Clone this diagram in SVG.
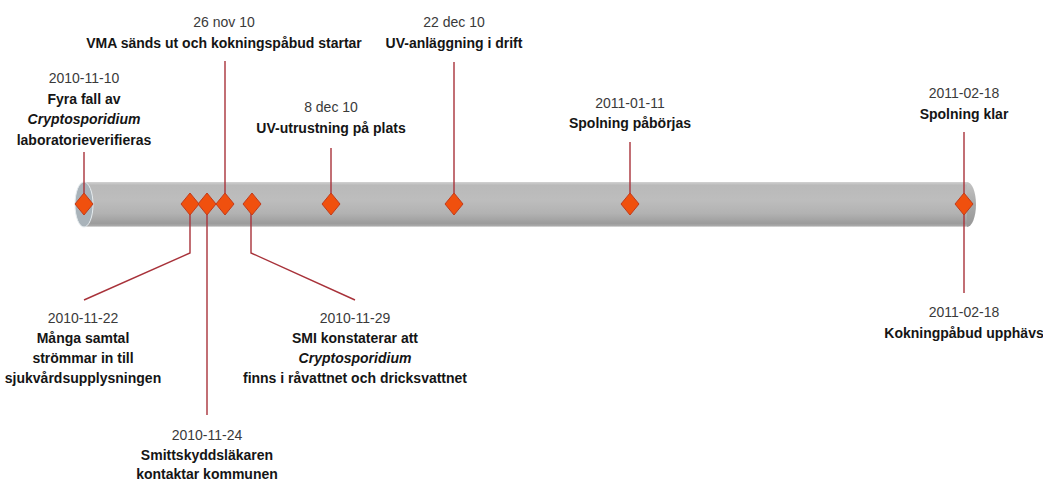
<svg xmlns="http://www.w3.org/2000/svg" width="1043" height="483" viewBox="0 0 1043 483">
<style>
text{font-family:"Liberation Sans",Arial,sans-serif;font-size:14px;text-anchor:middle}
.d{fill:#3a3a3a}
.b{font-weight:bold;fill:#151515}
.i{font-style:italic}
.ln{stroke:#a8323a;stroke-width:1.4;fill:none}
</style>
<defs>
<linearGradient id="body" x1="0" y1="0" x2="0" y2="1">
<stop offset="0" stop-color="#d2d2d2"/>
<stop offset="0.07" stop-color="#b9b9b9"/>
<stop offset="0.4" stop-color="#bdbdbd"/>
<stop offset="0.7" stop-color="#b2b2b2"/>
<stop offset="0.92" stop-color="#9c9c9c"/>
<stop offset="0.97" stop-color="#a9a9a9"/>
<stop offset="1" stop-color="#e4e4e4"/>
</linearGradient>
<linearGradient id="cap" x1="0" y1="0" x2="0" y2="1">
<stop offset="0" stop-color="#c4c4c4"/>
<stop offset="0.5" stop-color="#a9a9a9"/>
<stop offset="1" stop-color="#979797"/>
</linearGradient>
<polygon id="dm" points="0,-11 9,0 0,11 -9,0" fill="#f0500e" stroke="#c23a1a" stroke-width="1"/>
</defs>
<g id="timeline-bar">
<rect x="84" y="182" width="883" height="45" fill="url(#body)"/>
<path d="M967,182 A9,22.5 0 0 1 967,227 Z" fill="url(#cap)"/>
<ellipse cx="84" cy="204.5" rx="9" ry="22.5" fill="#a9b3ba" stroke="#e6ecef" stroke-width="1"/>
</g>
<g id="connectors">
<line class="ln" x1="84" y1="152" x2="84" y2="204"/>
<line class="ln" x1="225" y1="61" x2="225" y2="204"/>
<line class="ln" x1="331" y1="148" x2="331" y2="204"/>
<line class="ln" x1="454" y1="62" x2="454" y2="204"/>
<line class="ln" x1="630" y1="142" x2="630" y2="204"/>
<line class="ln" x1="964" y1="132" x2="964" y2="293"/>
<polyline class="ln" points="190,204 190,253 84,300"/>
<line class="ln" x1="207" y1="204" x2="207" y2="415"/>
<polyline class="ln" points="251,204 251,253 355,300"/>
</g>
<g id="markers">
<use href="#dm" x="84" y="204"/>
<use href="#dm" x="190" y="204"/>
<use href="#dm" x="207" y="204"/>
<use href="#dm" x="225" y="204"/>
<use href="#dm" x="252" y="204"/>
<use href="#dm" x="331" y="204"/>
<use href="#dm" x="454" y="204"/>
<use href="#dm" x="630" y="204"/>
<use href="#dm" x="964" y="204"/>
</g>
<g id="ev-2010-11-10">
<text class="d" x="84" y="83">2010-11-10</text>
<text class="b" x="84" y="104">Fyra fall av</text>
<text class="b i" x="84" y="124">Cryptosporidium</text>
<text class="b" x="84" y="145">laboratorieverifieras</text>
</g>
<g id="ev-26nov">
<text class="d" x="224" y="27">26 nov 10</text>
<text class="b" x="224" y="48">VMA sänds ut och kokningspåbud startar</text>
</g>
<g id="ev-8dec">
<text class="d" x="331" y="112">8 dec 10</text>
<text class="b" x="331" y="133">UV-utrustning på plats</text>
</g>
<g id="ev-22dec">
<text class="d" x="454" y="27">22 dec 10</text>
<text class="b" x="454" y="48">UV-anläggning i drift</text>
</g>
<g id="ev-2011-01-11">
<text class="d" x="630" y="108">2011-01-11</text>
<text class="b" x="630" y="128">Spolning påbörjas</text>
</g>
<g id="ev-2011-02-18-top">
<text class="d" x="964" y="98">2011-02-18</text>
<text class="b" x="964" y="119">Spolning klar</text>
</g>
<g id="ev-2010-11-22">
<text class="d" x="83" y="323">2010-11-22</text>
<text class="b" x="83" y="343">Många samtal</text>
<text class="b" x="83" y="363">strömmar in till</text>
<text class="b" x="83" y="383">sjukvårdsupplysningen</text>
</g>
<g id="ev-2010-11-24">
<text class="d" x="207" y="440">2010-11-24</text>
<text class="b" x="207" y="460">Smittskyddsläkaren</text>
<text class="b" x="207" y="479">kontaktar kommunen</text>
</g>
<g id="ev-2010-11-29">
<text class="d" x="355" y="323">2010-11-29</text>
<text class="b" x="355" y="343">SMI konstaterar att</text>
<text class="b i" x="355" y="363">Cryptosporidium</text>
<text class="b" x="355" y="383">finns i råvattnet och dricksvattnet</text>
</g>
<g id="ev-2011-02-18-bottom">
<text class="d" x="964" y="317">2011-02-18</text>
<text class="b" x="964" y="338">Kokningpåbud upphävs</text>
</g>
</svg>
